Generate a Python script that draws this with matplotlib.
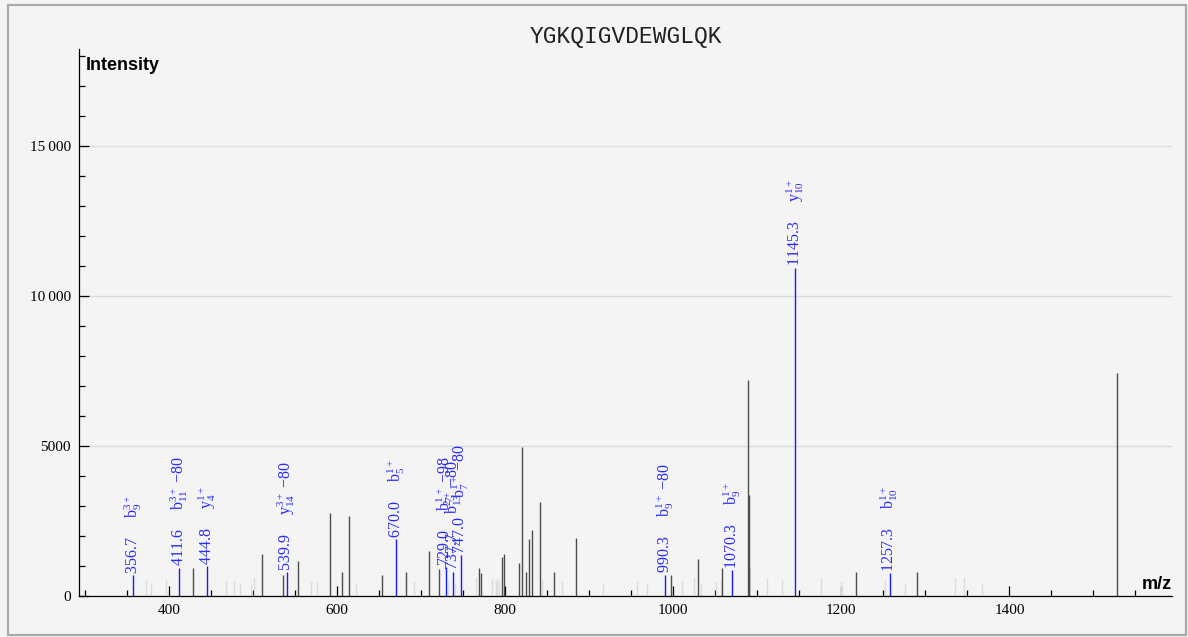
"""
@ 质谱图 YGKQIGVDEWGLQK
@ 标注碎片离子 b/y
"""

import matplotlib
matplotlib.use('Agg')
import matplotlib.pyplot as plt
from matplotlib.ticker import MultipleLocator, FuncFormatter
from matplotlib.patches import Rectangle

plt.rcParams['mathtext.fontset'] = 'custom'
plt.rcParams['mathtext.rm'] = 'Liberation Serif'
plt.rcParams['mathtext.it'] = 'Liberation Serif'

peptide = 'YGKQIGVDEWGLQK'

# 已注释的峰 (蓝色)
blue_mz = [356.7, 411.6, 444.8, 539.9, 670.0, 729.0, 737.7, 747.0, 990.3, 1070.3, 1145.3, 1257.3]
blue_int = [700, 945, 1000, 790, 1890, 955, 815, 1370, 715, 860, 10950, 755]
blue_ion = ['b_{9}^{3+}', 'b_{11}^{3+}', 'y_{4}^{1+}', 'y_{14}^{3+}', 'b_{5}^{1+}', 'b_{7}^{1+}',
            'b_{13}^{2+}', 'b_{7}^{1+}', 'b_{9}^{1+}', 'b_{9}^{1+}', 'y_{10}^{1+}', 'b_{10}^{1+}']
blue_loss = ['', '\u221280', '', '\u221280', '', '\u221298', '\u221280', '\u221280', '\u221280', '', '', '']

# 未注释的峰 (深灰)
dark_mz = [427.8, 510.9, 535.2, 553.2, 591.9, 606.2, 613.9, 653.0, 682.3, 708.7, 721.3,
           769.0, 771.5, 796.6, 798.2, 815.7, 819.5, 824.3, 828.6, 832.1, 841.5, 858.0,
           883.6, 997.7, 1029.6, 1058.2, 1088.5, 1089.9, 1090.5, 1217.7, 1289.8, 1528.6]
dark_int = [930, 1400, 700, 1155, 2770, 785, 2660, 690, 810, 1495, 888,
            920, 755, 1290, 1390, 1100, 4960, 790, 1900, 2190, 3145, 790,
            1935, 700, 1228, 950, 7200, 3355, 970, 785, 795, 7450]

# 噪声峰 (浅灰)
light_mz = [372.1, 378.8, 395.9, 468.1, 477.2, 484.0, 497.8, 500.3, 568.3, 575.3, 622.2,
            691.7, 731.9, 740.5, 764.9, 783.8, 789.0, 790.5, 793.0, 844.0, 867.5, 916.3,
            957.3, 969.0, 1010.2, 1024.4, 1032.8, 1051.2, 1057.0, 1111.0, 1128.8, 1175.4,
            1199.2, 1252.5, 1275.3, 1335.8, 1345.5, 1367.7]
light_int = [533, 445, 567, 500, 500, 400, 400, 595, 460, 467, 435,
             505, 533, 445, 645, 567, 500, 616, 533, 533, 478, 445,
             478, 400, 510, 635, 422, 510, 533, 600, 575, 589,
             460, 580, 422, 589, 645, 422]

bg = '#f4f4f4'
blue = '#2b2bff'

fig = plt.figure(figsize=(11.88, 6.37), dpi=100, facecolor=bg)
ax = fig.add_axes([79 / 1188, 41 / 637, 1093 / 1188, 547 / 637])
ax.set_facecolor(bg)

ax.vlines(light_mz, 0, light_int, colors='#dcdcdc', linewidth=1.0, zorder=2)
ax.vlines(dark_mz, 0, dark_int, colors='#4d4d4d', linewidth=1.0, zorder=3)
ax.vlines(blue_mz, 0, blue_int, colors='#1a1aff', linewidth=1.0, zorder=4)

# 标注: 数值 + 离子名称, 竖排
for mz, h, ion, loss in zip(blue_mz, blue_int, blue_ion, blue_loss):
    label = '%.1f' % mz + '     $\\mathregular{' + ion + '}$'
    if loss:
        label += ' ' + loss
    ax.annotate(label, (mz, h), xytext=(0, 1), textcoords='offset points',
                rotation=90, ha='center', va='bottom', color=blue,
                fontsize=11.5, family=['Liberation Serif', 'DejaVu Serif'], zorder=5)

ax.set_xlim(292.6, 1593.5)
ax.set_ylim(0, 18240)

# 刻度
ax.xaxis.set_major_locator(MultipleLocator(200))
ax.xaxis.set_minor_locator(MultipleLocator(50))
ax.yaxis.set_major_locator(MultipleLocator(5000))
ax.yaxis.set_minor_locator(MultipleLocator(1000))


def yfmt(v, pos):
    v = int(round(v))
    if v >= 10000:
        return '%d\u2009%03d' % (v // 1000, v % 1000)
    return '%d' % v


ax.yaxis.set_major_formatter(FuncFormatter(yfmt))
ax.tick_params(which='major', direction='in', length=7.5, width=0.9, color='black',
               labelsize=11, pad=6)
ax.tick_params(which='minor', direction='in', length=4.3, width=0.9, color='black')
for t in ax.get_xticklabels() + ax.get_yticklabels():
    t.set_family(['Liberation Serif', 'DejaVu Serif'])

ax.grid(axis='y', which='major', color='#dcdcdc', linewidth=1.0, zorder=0)
ax.set_axisbelow(True)
for s in ['top', 'right']:
    ax.spines[s].set_visible(False)
for s in ['left', 'bottom']:
    ax.spines[s].set_linewidth(0.9)
    ax.spines[s].set_zorder(6)

# 坐标轴名称
ax.text(0.006, 0.985, 'Intensity', transform=ax.transAxes, ha='left', va='top',
        fontsize=13, fontweight='bold', family='Liberation Sans')
ax.text(1.0, 0.005, 'm/z', transform=ax.transAxes, ha='right', va='bottom',
        fontsize=13, fontweight='bold', family='Liberation Sans', zorder=7)

fig.text(625.5 / 1188, 1 - 37 / 637, peptide, ha='center', va='center',
         fontsize=16.5, family='Liberation Mono', color='#222222')

# 外框
fig.patches.append(Rectangle((8 / 1188, 2 / 637), 1178 / 1188, 630 / 637,
                             transform=fig.transFigure, fill=False,
                             edgecolor='#aaaaaa', linewidth=1.6))

fig.savefig('out.png', dpi=100, facecolor=bg)
